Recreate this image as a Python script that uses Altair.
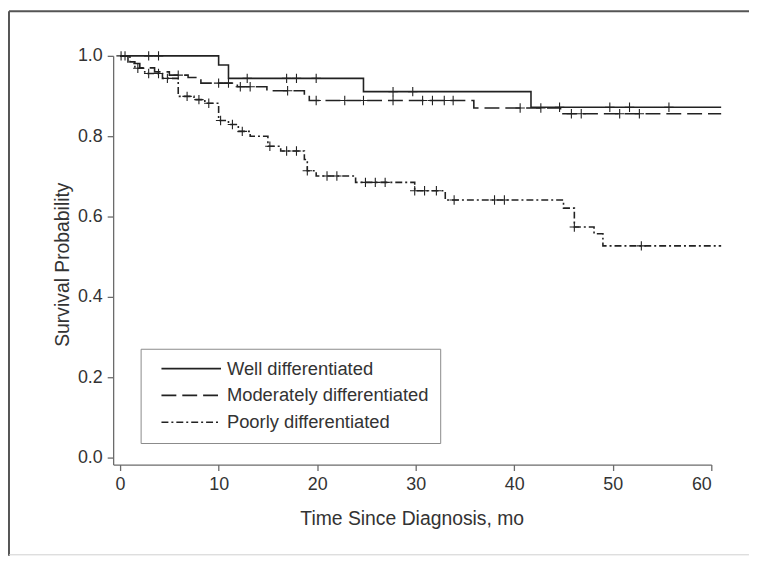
import altair as alt
import pandas as pd

groups = ["Well differentiated", "Moderately differentiated", "Poorly differentiated"]

# Kaplan-Meier step points (time in months, survival probability)
well_t = [0, 10.0, 11.0, 24.7, 41.7, 61.0]
well_s = [1.0, 0.977, 0.944, 0.911, 0.872, 0.872]
well_c = [0.5, 2.9, 3.9, 12.9, 16.9, 17.9, 19.9, 27.7, 29.7, 44.6, 49.7, 51.7, 55.7]

mod_t = [0, 0.8, 2.0, 3.5, 5.0, 6.9, 8.2, 11.9, 14.9, 18.7, 19.2, 35.9, 44.7, 61.0]
mod_s = [1.0, 0.981, 0.970, 0.960, 0.952, 0.946, 0.932, 0.923, 0.913, 0.903, 0.889, 0.870, 0.856, 0.856]
mod_c = [0.1, 5.9, 10.0, 11.0, 12.2, 13.2, 17.0, 19.9, 22.8, 24.7, 27.7, 30.7, 31.7, 32.9, 33.8,
         40.6, 42.7, 45.8, 46.8, 50.7, 52.7]

poor_t = [0, 1.0, 1.5, 2.5, 4.3, 5.9, 7.5, 8.6, 10.0, 11.0, 12.0, 13.2, 15.0, 16.3, 18.7, 19.0,
          19.9, 23.9, 29.9, 33.0, 45.0, 46.1, 48.1, 49.0, 61.0]
poor_s = [1.0, 0.985, 0.969, 0.956, 0.944, 0.899, 0.891, 0.882, 0.839, 0.829, 0.812, 0.800, 0.775,
          0.763, 0.742, 0.714, 0.701, 0.685, 0.664, 0.641, 0.621, 0.574, 0.557, 0.527, 0.527]
poor_c = [1.8, 2.9, 3.9, 4.8, 6.8, 8.0, 9.0, 10.2, 11.4, 12.4, 15.2, 16.9, 17.9, 19.0, 21.0, 22.0,
          24.9, 25.9, 26.9, 29.9, 30.9, 32.1, 33.9, 38.0, 39.0, 46.1, 52.9]

x_ticks = [0, 10, 20, 30, 40, 50, 60]
y_ticks = [0.0, 0.2, 0.4, 0.6, 0.8, 1.0]

FONT = "Liberation Sans, Arial, Helvetica, sans-serif"
INK = "#222222"
AXIS = "#6b6b6b"
TXT = "#333333"


def surv_at(ts, ss, c):
    v = ss[0]
    for t, s in zip(ts, ss):
        if t <= c:
            v = s
    return v


curve_rows, cens_rows = [], []
for g, ts, ss, cs in [(groups[0], well_t, well_s, well_c),
                      (groups[1], mod_t, mod_s, mod_c),
                      (groups[2], poor_t, poor_s, poor_c)]:
    for t, s in zip(ts, ss):
        curve_rows.append({"group": g, "t": t, "s": s})
    for c in cs:
        cens_rows.append({"group": g, "t": c, "s": surv_at(ts, ss, c)})

curves = pd.DataFrame(curve_rows)
cens = pd.DataFrame(cens_rows)

W, H = 603, 412
PL, PT, PR, PB = 106, 46, 38, 92

xscale = alt.Scale(domain=[-0.705, 60], nice=False, zero=False)
yscale = alt.Scale(domain=[-0.0173, 1.0], nice=False, zero=False)

x_enc = alt.X("t:Q", scale=xscale, axis=alt.Axis(
    values=x_ticks, format="d", title="Time Since Diagnosis, mo",
    titleX=W / 2 - 0.5, titleY=54, titleBaseline="middle", titleAlign="center",
    labelPadding=5))
y_enc = alt.Y("s:Q", scale=yscale, axis=alt.Axis(
    values=y_ticks, format=".1f", title="Survival Probability",
    titleX=-51, titleY=H / 2 + 4, titleAngle=270, titleBaseline="middle", titleAlign="center",
    labelPadding=5))

lines = alt.Chart(curves).mark_line(interpolate="step-after", strokeWidth=1.6, color=INK).encode(
    x=x_enc,
    y=y_enc,
    strokeDash=alt.StrokeDash("group:N", scale=alt.Scale(
        domain=groups, range=[[1, 0], [15, 6], [7, 3, 2, 3]]),
        legend=alt.Legend(title=None, orient="none", legendX=27.7, legendY=295.3,
                          strokeColor="#8a8a8a", padding=11, symbolType="stroke",
                          symbolSize=3600, symbolStrokeWidth=1.6, symbolStrokeColor=INK,
                          clipHeight=18, labelFontSize=18.5, labelFont=FONT, labelColor=TXT,
                          labelOffset=5, rowPadding=8, symbolOffset=9, labelLimit=400)),
    detail="group:N",
)

plus = "M-1,0L1,0M0,-1L0,1"
marks = alt.Chart(cens).mark_point(shape=plus, size=90, filled=False, strokeWidth=1.1,
                                   color=INK, opacity=1).encode(
    x=alt.X("t:Q", scale=xscale), y=alt.Y("s:Q", scale=yscale))

frame_top = alt.Chart().mark_rule(color="#555555", strokeWidth=2).encode(
    x=alt.value(-PL + 1), x2=alt.value(W + PR), y=alt.value(-PT + 1))
frame_left = alt.Chart().mark_rule(color="#555555", strokeWidth=2).encode(
    x=alt.value(-PL + 1), y=alt.value(-PT + 1), y2=alt.value(H + PB))
frame_bottom = alt.Chart().mark_rule(color="#d0d0d0", strokeWidth=1).encode(
    x=alt.value(-PL + 1), x2=alt.value(W + PR), y=alt.value(H + PB - 1))

chart = alt.layer(frame_top, frame_left, frame_bottom, lines, marks).properties(
    width=W, height=H,
    autosize=alt.AutoSizeParams(type="none"),
    padding={"left": PL, "top": PT, "right": PR, "bottom": PB},
).configure_view(stroke=None).configure_axis(
    grid=False, domainColor=AXIS, domainWidth=1.3, tickColor=AXIS, tickWidth=1.3, tickSize=6,
    labelFont=FONT, labelFontSize=18, labelColor=TXT,
    titleFont=FONT, titleFontSize=19.5, titleColor=TXT, titleFontWeight="normal",
)

chart.save("out.html", embed_options={"renderer": "svg", "actions": False})
